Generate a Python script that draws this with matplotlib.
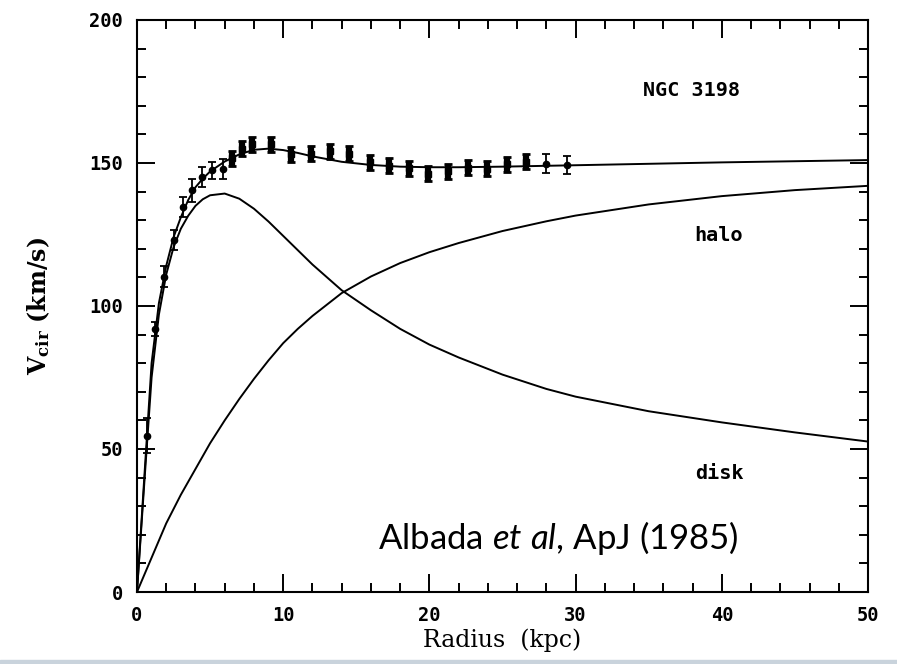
import matplotlib
matplotlib.use("Agg")
import matplotlib.pyplot as plt
from matplotlib.patches import Rectangle
from matplotlib.ticker import MultipleLocator

plt.rcParams["mathtext.fontset"] = "custom"
plt.rcParams["mathtext.rm"] = "DejaVu Serif"
plt.rcParams["mathtext.bf"] = "DejaVu Serif:bold"
plt.rcParams["mathtext.it"] = "Lato:italic"

# --------------------
# Data
# --------------------
r_obs = [0.66, 1.23, 1.85, 2.53, 3.17, 3.74, 4.42, 5.10, 5.86, 6.52,
         7.16, 7.84, 9.20, 10.53, 11.88, 13.20, 14.52, 15.94, 17.26, 18.60,
         19.90, 21.30, 22.66, 23.96, 25.30, 26.60, 27.97, 29.40]
v_obs = [54.7, 92.0, 110.3, 123.0, 134.6, 140.5, 145.0, 147.5, 147.8, 151.6,
         155.0, 156.5, 156.6, 153.1, 153.3, 154.1, 153.2, 150.2, 149.0, 148.1,
         146.3, 147.1, 148.3, 148.0, 149.5, 150.4, 149.8, 149.2]
v_err = [6.0, 2.5, 3.5, 3.5, 3.5, 4.0, 3.5, 3.0, 3.5, 2.6,
         2.6, 2.6, 2.6, 2.6, 2.6, 2.6, 2.6, 2.6, 2.6, 2.6,
         2.6, 2.6, 2.6, 2.6, 2.6, 2.6, 3.3, 3.1]

r_model = [0, 0.5, 1, 1.5, 2, 2.5, 3, 3.5, 4, 4.5, 5, 6, 7, 8, 9, 10, 11, 12,
           14, 16, 18, 20, 22, 25, 28, 30, 35, 40, 45, 50]
v_total = [0, 40, 80, 101, 114, 124, 131, 137, 141.5, 144.5, 147, 150.5, 153,
           154.6, 155, 154.5, 153.5, 152.3, 150.4, 149.3, 148.7, 148.5, 148.5,
           148.7, 149, 149.2, 149.7, 150.2, 150.6, 151]
v_disk = [0, 38, 75, 97, 111, 120.5, 127, 131.5, 135, 137.3, 138.7, 139.3,
          137.5, 134, 129.5, 124.5, 119.5, 114.5, 105.5, 98.5, 92, 86.5, 82,
          76, 71, 68.3, 63.2, 59.3, 55.8, 52.6]
v_halo = [0, 6, 12, 18, 24, 29, 34, 38.5, 43, 47.5, 52, 60, 67.5, 74.5, 81,
          87, 92, 96.5, 104.5, 110.3, 115, 118.8, 122, 126.2, 129.6, 131.6,
          135.5, 138.4, 140.5, 142]

# --------------------
# Plot
# --------------------
fig = plt.figure(figsize=(8.97, 6.64), dpi=100)
ax = fig.add_axes([0.1527, 0.1084, 0.8150, 0.8616])

lw = 1.4
ax.plot(r_model, v_total, color="black", lw=lw)
ax.plot(r_model, v_disk, color="black", lw=lw)
ax.plot(r_model, v_halo, color="black", lw=lw)

# thin error bars for inner and outermost points, blocky ones in between
thin = list(range(0, 9)) + [26, 27]
thick = list(range(9, 26))
ax.errorbar([r_obs[i] for i in thin], [v_obs[i] for i in thin],
            yerr=[v_err[i] for i in thin], fmt="o", ms=4.5, color="black",
            elinewidth=1.3, capsize=3, capthick=1.3)
ax.errorbar([r_obs[i] for i in thick], [v_obs[i] for i in thick],
            yerr=[v_err[i] for i in thick], fmt="s", ms=4, color="black",
            elinewidth=4.5, capsize=3.2, capthick=2)

# --------------------
# Axes formatting
# --------------------
ax.set_xlim(0, 50)
ax.set_ylim(0, 200)
ax.xaxis.set_major_locator(MultipleLocator(10))
ax.xaxis.set_minor_locator(MultipleLocator(2))
ax.yaxis.set_major_locator(MultipleLocator(50))
ax.yaxis.set_minor_locator(MultipleLocator(10))
ax.tick_params(which="both", direction="in", top=True, right=True,
               width=1.4, color="black")
ax.tick_params(which="major", length=13)
ax.tick_params(which="minor", length=6.5)
ax.tick_params(axis="x", which="major", pad=10)
ax.tick_params(axis="y", which="major", pad=10)
for s in ax.spines.values():
    s.set_linewidth(1.5)

for lab in ax.get_xticklabels() + ax.get_yticklabels():
    lab.set_fontfamily("DejaVu Sans Mono")
    lab.set_fontweight("bold")
    lab.set_fontsize(13.5)

ax.set_xlabel("Radius  (kpc)", fontfamily="DejaVu Serif", fontsize=17)
ax.xaxis.set_label_coords(0.5, -0.063)
ax.set_ylabel(r"V$_{\mathbf{cir}}$ (km/s)", fontfamily="DejaVu Serif",
              fontweight="bold", fontsize=17)
ax.yaxis.set_label_coords(-0.116, 0.5)

# --------------------
# Annotations
# --------------------
mono = dict(fontfamily="DejaVu Sans Mono", fontweight="bold", fontsize=14.5,
            ha="center", va="center")
ax.text(37.9, 175.4, "NGC 3198", **mono)
ax.text(39.8, 124.5, "halo", **mono)
ax.text(39.8, 41.4, "disk", **mono)

ax.text(16.5, 15.1, r"Albada $\it{et\ al}$, ApJ (1985)", fontfamily="Lato",
        fontsize=25, ha="left", va="baseline")

# slide border strip along the bottom
fig.patches.append(Rectangle((0, 0), 1, 4 / 664, transform=fig.transFigure,
                             color="#c9d3dc", zorder=-1))

fig.savefig("out.png", dpi=100)
